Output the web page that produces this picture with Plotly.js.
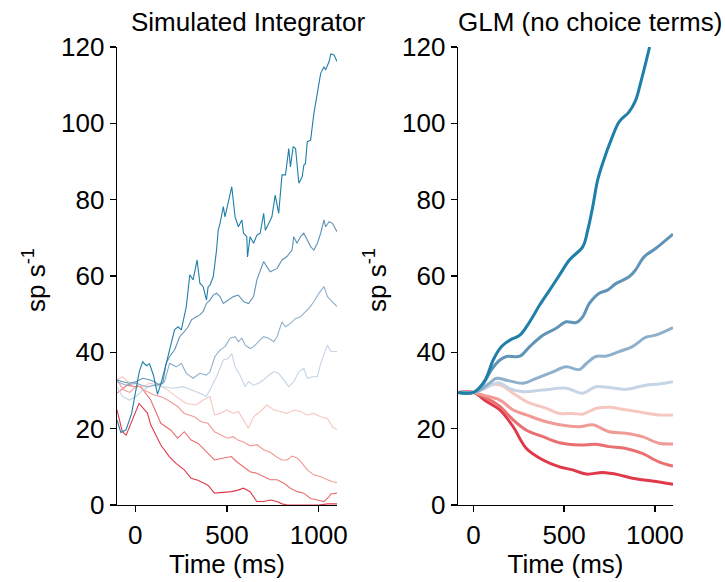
<!DOCTYPE html>
<html>
<head>
<meta charset="utf-8">
<script src="https://cdn.plot.ly/plotly-3.0.1.min.js"></script>
<style>html,body{margin:0;padding:0;background:#fff;}#chart{width:725px;height:582px;}</style>
</head>
<body>
<div id="chart"></div>
<script>
// ---- Colours (blue = strongest evidence up, red = strongest down)
const lineColors = ['#1f7fa8','#5f93b8','#8fb0cc','#c5d5e5','#f6c6c1','#f09b96','#ea6f70','#e03a4a'];

// ---- Left panel: Simulated Integrator (time ms, rate sp/s)
const simT1 = [-100,-79,-51,-20,-5,22,40,60,77,99,121,141,168,187,214,233,251,278,297,315,337,352,370,388,397,407,425,443,452,462,480,489,507,526,544,562,581,590,608,612,626,645,663,681,700,709,728,745,763,782,800,819,837,846,861,874,892,910,919,928,938,956,974,993,1011,1029,1038,1057,1066,1084,1100];
const simY1 = [22.3,19,19.7,24,28,35,37.5,36.5,37,34,29,32,37,40.6,45.9,46.7,45.9,52,60.3,59,64.2,58.1,57.2,53.7,57.2,57.6,59.8,66.8,72,73.8,78.2,75.5,79,83.4,75.5,72.9,74.7,71.2,70.3,65,70.3,68.6,70.7,71.2,76.4,72,73.8,75.5,81.2,76.4,86.5,86.5,93.4,88.6,93.9,93.4,84.3,86,89,89.5,95.2,95.6,102.6,107.9,113.1,114.8,114,116.2,118.2,117.9,116.2];

const simT2 = [-100,-70,-33,4,40,77,104,132,150,168,187,214,242,260,288,306,333,352,370,388,407,425,443,462,480,507,535,562,590,617,645,663,681,700,718,736,773,800,827,855,864,882,901,919,938,956,974,993,1011,1029,1038,1057,1075,1100];
const simY2 = [32.8,32.3,31.9,32.3,33.2,32.8,32.3,31.4,31.9,37.1,38.9,40.6,44.1,45,46.7,48.5,49.3,49.8,50.7,52.8,53.7,55,55.5,54.6,52.8,53.7,54.6,55,53.3,52.8,54.6,59,61.6,63.8,62.4,61.1,62,64.2,65.1,66.8,70.3,68.6,70.3,71.2,69.4,67.7,66.8,68.6,71.2,74.7,72.9,74.2,73.8,71.6];

const simT3 = [-100,-51,4,59,114,159,187,223,251,278,315,352,388,407,434,462,489,517,544,562,581,599,626,645,672,700,727,755,773,800,819,846,874,901,919,947,974,1002,1029,1048,1066,1084,1100];
const simY3 = [32.3,31.4,31.9,31,31.4,32.3,37.1,36.2,37.1,34.5,33.2,34.5,34,34.9,38.9,40.6,41.5,43.7,44.1,42.8,43.7,41.9,41,41.5,42.8,44.1,43.7,42.8,44.1,48,46.7,47.6,48.9,49.3,50.2,51.5,53.3,55.5,57.2,54.6,53.7,52.8,52];

const simT4 = [-100,-70,-33,4,40,95,150,205,260,315,352,388,407,443,480,507,526,544,571,599,617,645,672,700,727,755,782,810,837,864,892,919,938,965,993,1011,1029,1048,1066,1100];
const simY4 = [31,28.4,27.5,28.4,30.1,31.4,31,30.6,31,30.1,29.3,28.4,30.1,33.6,38,38.4,39.7,36.2,34,31,32.3,31.4,31.9,32.8,34,34.9,34.5,32.8,31,32.3,34.9,35.8,33.2,33.6,33.6,37.1,39.7,41.9,40.2,40.2];

const simT5 = [-100,-70,-33,4,40,77,132,177,223,278,333,370,407,432,462,498,535,562,590,617,645,681,718,755,791,828,864,901,938,974,1011,1048,1075,1100];
const simY5 = [32.8,33.6,31.9,32.3,31,31.9,31.4,30.1,28.4,26.6,26.2,27.5,28.4,23.6,24,24.9,24,24.5,22.3,20.1,23.1,24.5,26.2,24.9,24.5,24,24.9,24.5,23.6,24,23.1,22.7,20.5,19.7];

const simT6 = [-100,-62,-30,11,66,103,139,176,231,267,322,359,396,432,469,505,533,560,590,626,663,700,736,773,800,828,855,883,910,938,974,1011,1048,1075,1100];
const simY6 = [32.7,30.1,29.5,31.4,29.7,28.8,28.4,27.5,25.8,24,23.1,21.8,21.4,19.2,18.3,17.5,17.9,17,16.5,15.5,15.8,14.5,13.8,12.5,11.8,11.8,12.8,12.3,10.9,9.2,7.9,7.4,6.6,6.1,5.9];

const simT7 = [-100,-70,-44,0,29,84,139,194,231,267,304,341,396,432,469,524,551,590,626,663,700,736,773,810,846,883,919,956,993,1029,1057,1066,1100];
const simY7 = [29.3,30.5,31.4,31,31,27.5,21.4,19.6,17.5,19.2,17,16.2,13.5,11.8,12.2,12.7,11.4,10,8.7,8.3,7.4,6.6,6.6,5.7,4.4,3.5,3.1,1.7,1.3,0.9,2.2,2.9,3.1];

const simT8 = [-100,-71,-50,-20,20,66,84,103,139,185,222,267,304,341,396,432,469,524,560,590,626,645,663,700,736,773,800,830,870,920,1000,1050,1100];
const simY8 = [24.9,19.2,18.3,22,26.6,24.1,21,19.2,15.7,12.7,10.9,9.2,7,6.5,5.2,3.1,3.2,3.5,3.9,4.4,3.5,2.2,0.9,0.9,1.3,0.9,0.3,0,0,0,0,0.3,0.3];

// ---- Right panel: GLM (no choice terms)
const glmT1 = [-85,0,64,109,155,201,256,310,365,420,475,529,603,630,657,684,712,766,803,858,894,921,949,971];
const glmY1 = [29.5,29.5,32.7,38,41.5,43.2,44.5,48,52.4,56.3,60.3,64.2,67.7,72,78,85,89.5,96.5,100.4,103,106,110.5,115.7,120];
const glmT2 = [-85,0,50,100,146,183,256,310,383,456,511,566,602,639,693,739,785,858,894,940,1004,1100];
const glmY2 = [29.5,29.5,31.5,35.5,38,38.9,39,41.5,44.5,46.3,48,47.8,49.3,52.8,55.5,56.3,58,59.8,61.6,65,67.2,71];
const glmT3 = [-85,0,50,90,128,183,274,347,438,511,584,621,675,730,803,876,949,1004,1100];
const glmY3 = [29.5,29.5,30.5,32,33.2,32.7,31.9,33.2,34.9,36.2,35.5,37,38.9,39,40.2,41.5,43.9,44.5,46.5];
const glmT4 = [-85,0,60,100,146,200,274,383,511,602,675,748,840,949,1022,1100];
const glmY4 = [29.5,29.5,30.5,31.5,32,30.5,29.7,30.1,30.6,29.3,31,30.8,30.3,31.4,31.7,32.3];
const glmT5 = [-85,0,60,100,146,219,292,402,475,547,602,675,748,821,912,1022,1100];
const glmY5 = [29.5,29.5,30.5,31.5,31.5,29.3,27.1,25.3,24,24,23.8,25.3,25.6,25.1,24.4,23.6,23.6];
const glmT6 = [-85,0,55,146,219,292,402,475,584,657,748,840,931,1022,1100];
const glmY6 = [29.5,29.5,28.8,27.5,24.9,23.6,21.8,21,20.5,21,19.2,18.8,17.9,16.2,16];
const glmT7 = [-85,0,73,146,219,292,383,475,584,675,748,840,931,1022,1100];
const glmY7 = [29.5,29.5,28,25.8,22.3,19.6,17.9,16.3,15.7,15.9,15.3,14.8,13.5,11.3,10.2];
const glmT8 = [-85,0,73,146,219,292,383,475,547,621,712,803,876,985,1100];
const glmY8 = [29.5,29.5,27.1,24.9,20.5,14.8,11.8,10,9.2,8.1,8.5,7.9,7,6.3,5.4];

const yTicks = [0,20,40,60,80,100,120];
const xTicks = [0,500,1000];

const simT = [simT1,simT2,simT3,simT4,simT5,simT6,simT7,simT8];
const simY = [simY1,simY2,simY3,simY4,simY5,simY6,simY7,simY8];
const glmT = [glmT1,glmT2,glmT3,glmT4,glmT5,glmT6,glmT7,glmT8];
const glmY = [glmY1,glmY2,glmY3,glmY4,glmY5,glmY6,glmY7,glmY8];

const traces = [];
for (let i = 7; i >= 0; i--) {
  traces.push({x: simT[i], y: simY[i], type: 'scatter', mode: 'lines', xaxis: 'x', yaxis: 'y',
    line: {color: lineColors[i], width: 1.1}, showlegend: false, hoverinfo: 'skip'});
}
for (let i = 7; i >= 0; i--) {
  traces.push({x: glmT[i], y: glmY[i], type: 'scatter', mode: 'lines', xaxis: 'x2', yaxis: 'y2',
    line: {color: lineColors[i], width: 3, shape: 'spline', smoothing: 1}, showlegend: false, hoverinfo: 'skip'});
}

const FONT = 'Liberation Sans, Arial, Helvetica, sans-serif';
const W = 725, H = 582;
const TFS = 26;
const axBase = {
  showline: true, linecolor: '#000', linewidth: 1.3, ticks: 'outside', ticklen: 6, tickwidth: 1.3,
  tickcolor: '#000', showgrid: false, zeroline: false, tickfont: {family: FONT, size: 26, color: '#000'}
};
const yDom = [(H - 505) / H, (H - 47) / H];

const layout = {
  width: W, height: H, margin: {l: 0, r: 0, t: 0, b: 0}, paper_bgcolor: '#fff', plot_bgcolor: '#fff',
  font: {family: FONT, color: '#000'},
  xaxis: Object.assign({}, axBase, {domain: [117 / W, 337 / W], range: [-100, 1100], tickvals: xTicks,
    anchor: 'y', title: {text: 'Time (ms)', font: {family: FONT, size: TFS, color: '#000'}, standoff: 4}}),
  yaxis: Object.assign({}, axBase, {domain: yDom, range: [0, 120], tickvals: yTicks, anchor: 'x'}),
  xaxis2: Object.assign({}, axBase, {domain: [458 / W, 673 / W], range: [-85, 1100], tickvals: xTicks,
    anchor: 'y2', title: {text: 'Time (ms)', font: {family: FONT, size: TFS, color: '#000'}, standoff: 4}}),
  yaxis2: Object.assign({}, axBase, {domain: yDom, range: [0, 120], tickvals: yTicks, anchor: 'x2'}),
  annotations: [
    {text: 'Simulated Integrator', xref: 'paper', yref: 'paper', x: 248 / W, y: 1 - 22 / H,
     xanchor: 'center', yanchor: 'middle', showarrow: false, font: {family: FONT, size: TFS, color: '#000'}},
    {text: 'GLM (no choice terms)', xref: 'paper', yref: 'paper', x: 590 / W, y: 1 - 22 / H,
     xanchor: 'center', yanchor: 'middle', showarrow: false, font: {family: FONT, size: TFS, color: '#000'}},
    {text: 'sp s<sup>-1</sup>', xref: 'paper', yref: 'paper', x: 34 / W, y: 1 - 280 / H, textangle: -90,
     xanchor: 'center', yanchor: 'middle', showarrow: false, font: {family: FONT, size: TFS, color: '#000'}},
    {text: 'sp s<sup>-1</sup>', xref: 'paper', yref: 'paper', x: 375 / W, y: 1 - 280 / H, textangle: -90,
     xanchor: 'center', yanchor: 'middle', showarrow: false, font: {family: FONT, size: TFS, color: '#000'}}
  ]
};

Plotly.newPlot('chart', traces, layout, {staticPlot: true, displayModeBar: false});
</script>
</body>
</html>
